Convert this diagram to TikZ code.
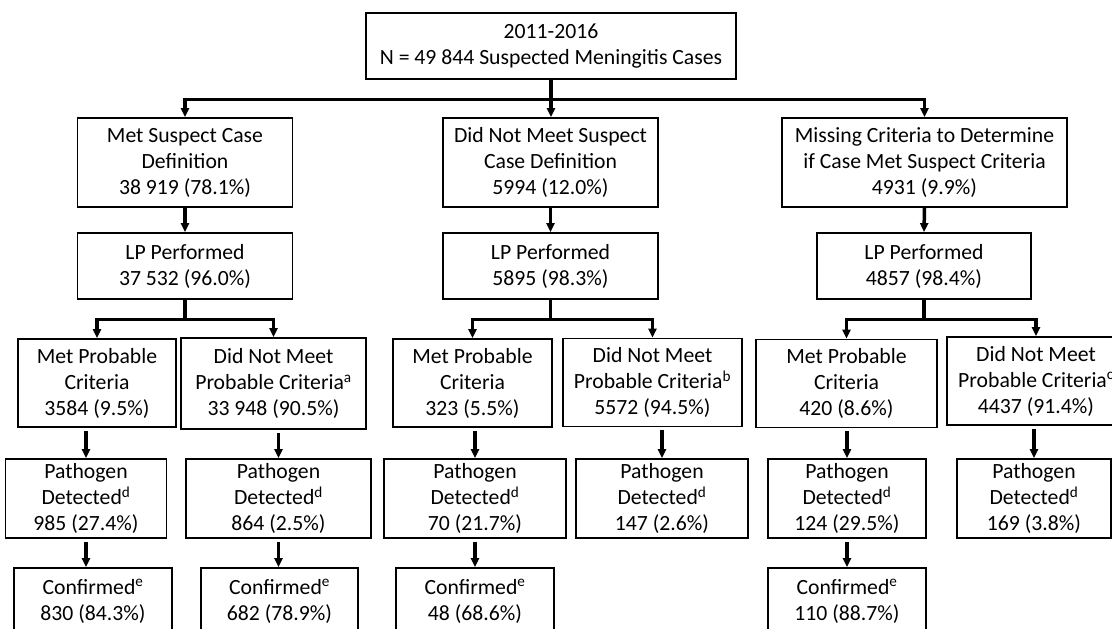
\documentclass[tikz,border=0pt]{standalone}
\usepackage{fontspec}
\setmainfont{Carlito}
\usetikzlibrary{arrows.meta}
\tikzset{%
  font=\fontsize{21.7}{26}\selectfont,>={Triangle[length=9pt,width=8pt]},
  box/.style={draw,line width=1.8pt,align=center,inner sep=1pt},
  arr/.style={draw,line width=3.5pt,->}
}

\begin{document}
\begin{tikzpicture}[x=1pt,y=-1pt,
	top/.style={box,minimum height=66pt},%
	sus/.style={box,minimum height=89pt},%
	prob/.style={box,minimum height=88pt},%
	path/.style={box,minimum height=79pt},%
	conf/.style={box,minimum height=66pt},%
	low/.style={arr,shorten <=3pt}]
	\clip (0,0) rectangle (1112,629);
	% cases
	\node[top,minimum width=370pt] (all) at (551,46) {2011-2016\\N = 49 844 Suspected Meningitis Cases};
	\node[sus,minimum width=215pt] (sA) at (185,162.5) {Met Suspect Case\\Definition\\38 919 (78.1\%)};
	\node[sus,minimum width=215pt] (sB) at (550.5,162.5) {Did Not Meet Suspect\\Case Definition\\5994 (12.0\%)};
	\node[sus,minimum width=285pt] (sC) at (924.5,162.5) {Missing Criteria to Determine\\if Case Met Suspect Criteria\\4931 (9.9\%)};
	% lumbar puncture
	\node[top,minimum width=215pt] (lpA) at (185,266) {LP Performed\\37 532 (96.0\%)};
	\node[top,minimum width=215pt] (lpB) at (550.5,266) {LP Performed\\5895 (98.3\%)};
	\node[top,minimum width=214pt] (lpC) at (924,266) {LP Performed\\4857 (98.4\%)};
	% probable
	\node[prob,minimum width=158pt] (pA) at (97,383) {Met Probable\\Criteria\\3584 (9.5\%)};
	\node[prob,minimum width=185pt,minimum height=91pt] (nA) at (273.5,383.5) {Did Not Meet\\Probable Criteria\textsuperscript{a}\\33 948 (90.5\%)};
	\node[prob,minimum width=159pt] (pB) at (472.5,383) {Met Probable\\Criteria\\323 (5.5\%)};
	\node[prob,minimum width=179pt] (nB) at (652.5,382.5) {Did Not Meet\\Probable Criteria\textsuperscript{b}\\5572 (94.5\%)};
	\node[prob,minimum width=181pt] (pC) at (846.5,383.5) {Met Probable\\Criteria\\420 (8.6\%)};
	\node[prob,minimum width=178pt] (nC) at (1036,381) {Did Not Meet\\Probable Criteria\textsuperscript{c}\\4437 (91.4\%)};
	% pathogen
	\node[path,minimum width=161pt] (dpA) at (86,498.5) {Pathogen\\Detected\textsuperscript{d}\\985 (27.4\%)};
	\node[path,minimum width=185pt] (dnA) at (278.5,498.5) {Pathogen\\Detected\textsuperscript{d}\\864 (2.5\%)};
	\node[path,minimum width=182pt] (dpB) at (475,498.5) {Pathogen\\Detected\textsuperscript{d}\\70 (21.7\%)};
	\node[path,minimum width=172pt] (dnB) at (662,498.5) {Pathogen\\Detected\textsuperscript{d}\\147 (2.6\%)};
	\node[path,minimum width=158pt] (dpC) at (847,498.5) {Pathogen\\Detected\textsuperscript{d}\\124 (29.5\%)};
	\node[path,minimum width=154pt] (dnC) at (1034,498.5) {Pathogen\\Detected\textsuperscript{d}\\169 (3.8\%)};
	% confirmed
	\node[conf,minimum width=158pt] (cpA) at (93,601) {Confirmed\textsuperscript{e}\\830 (84.3\%)};
	\node[conf,minimum width=157pt] (cnA) at (279.5,601) {Confirmed\textsuperscript{e}\\682 (78.9\%)};
	\node[conf,minimum width=158pt] (cpB) at (475,601) {Confirmed\textsuperscript{e}\\48 (68.6\%)};
	\node[conf,minimum width=158pt] (cpC) at (847,601) {Confirmed\textsuperscript{e}\\110 (88.7\%)};
	% connectors
	\draw[arr] (all.south) -- ++(0,19.5) -| (sA.north);
	\draw[arr] (all.south) -- (all.south |- sB.north);
	\draw[arr] (all.south) -- ++(0,19.5) -| (sC.north);
	\foreach \c in {A,B,C}
		\draw[arr] (s\c.south) -- (lp\c.north);
	\foreach \c in {A,B,C} {
		\draw[arr] (lp\c.south) -- ++(0,19.5) -| (p\c.north);
		\draw[arr] (lp\c.south) -- ++(0,19.5) -| (n\c.north);
		\draw[low] (dp\c.north |- p\c.south) -- (dp\c.north);
		\draw[low] (dn\c.north |- n\c.south) -- (dn\c.north);
	}
	\foreach \c in {pA,nA,pB,pC}
		\draw[low] (d\c.south) -- (d\c.south |- c\c.north);
\end{tikzpicture}
\end{document}
